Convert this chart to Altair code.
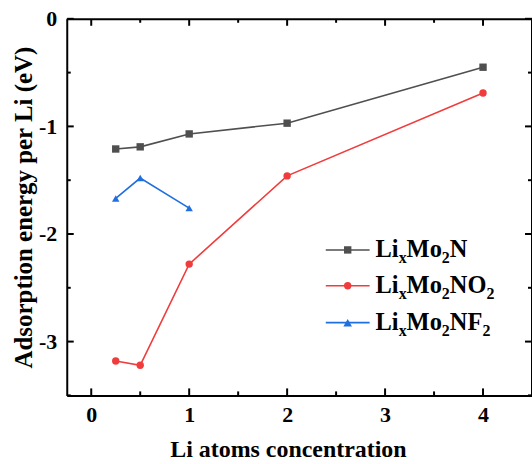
import altair as alt
import pandas as pd

# ---------------- data ----------------
conc_mo2n = [0.25, 0.5, 1, 2, 4]
energy_mo2n = [-1.21, -1.19, -1.07, -0.97, -0.45]
conc_mo2no2 = [0.25, 0.5, 1, 2, 4]
energy_mo2no2 = [-3.18, -3.22, -2.28, -1.46, -0.69]
conc_mo2nf2 = [0.25, 0.5, 1]
energy_mo2nf2 = [-1.67, -1.48, -1.76]

series_names = ["LixMo2N", "LixMo2NO2", "LixMo2NF2"]
# legend labels as (text, is_subscript) segments
legend_parts = [
    [("Li", False), ("x", True), ("Mo", False), ("2", True), ("N", False)],
    [("Li", False), ("x", True), ("Mo", False), ("2", True), ("NO", False), ("2", True)],
    [("Li", False), ("x", True), ("Mo", False), ("2", True), ("NF", False), ("2", True)],
]
x_major = [0, 1, 2, 3, 4]
y_major = [-3, -2, -1, 0]
x_minor = [0.5, 1.5, 2.5, 3.5, 4.5]
y_minor = [-3.5, -2.5, -1.5, -0.5]

colors = ["#4F4F4F", "#F03C3C", "#1F6FE0"]
shapes = ["square", "circle", "triangle-up"]
marker_sizes = [55, 55, 75]

rows = []
for name, xs_, ys_ in [(series_names[0], conc_mo2n, energy_mo2n),
                       (series_names[1], conc_mo2no2, energy_mo2no2),
                       (series_names[2], conc_mo2nf2, energy_mo2nf2)]:
    for a, b in zip(xs_, ys_):
        rows.append({"series": name, "conc": a, "energy": b})
df = pd.DataFrame(rows)

# ---------------- layout ----------------
W, H = 467, 378
FONT = "Liberation Serif"
MAJOR_LEN, MINOR_LEN = 7, 4

xscale = alt.Scale(domain=[-0.25, 4.5], nice=False, zero=False)
yscale = alt.Scale(domain=[-3.5, 0], nice=False, zero=False)
cscale = alt.Scale(domain=series_names, range=colors)
sscale = alt.Scale(domain=series_names, range=shapes)
zscale = alt.Scale(domain=series_names, range=marker_sizes)

base = alt.Chart(df)

lines = base.mark_line(strokeWidth=1.6).encode(
    x=alt.X("conc:Q", scale=xscale, axis=alt.Axis(
        orient="bottom", values=x_major, ticks=False, domain=True, domainColor="black",
        domainWidth=2, grid=False,
        labelExpr="datum.value + ''", labelFont=FONT, labelFontSize=22, labelFontWeight="bold",
        labelColor="black", labelPadding=9,
        title="Li atoms concentration", titleFont=FONT, titleFontSize=24, titleFontWeight="bold",
        titleColor="black", titleX=222, titleY=61, titleAlign="center", titleBaseline="alphabetic")),
    y=alt.Y("energy:Q", scale=yscale, axis=alt.Axis(
        orient="left", values=y_major, ticks=False, domain=True, domainColor="black",
        domainWidth=2, grid=False,
        labelExpr="datum.value + ''", labelFont=FONT, labelFontSize=22, labelFontWeight="bold",
        labelColor="black", labelPadding=10,
        title="Adsorption energy per Li (eV)", titleFont=FONT, titleFontSize=25, titleFontWeight="bold",
        titleColor="black", titleX=-35, titleY=189, titleAngle=270, titleAlign="center",
        titleBaseline="alphabetic")),
    color=alt.Color("series:N", scale=cscale, legend=None),
)

points = base.mark_point(filled=True, opacity=1).encode(
    x=alt.X("conc:Q", scale=xscale, axis=None),
    y=alt.Y("energy:Q", scale=yscale, axis=None),
    color=alt.Color("series:N", scale=cscale, legend=None),
    shape=alt.Shape("series:N", scale=sscale, legend=None),
    size=alt.Size("series:N", scale=zscale, legend=None),
)

# ---------------- frame (top / right) and inward ticks ----------------
dummy = pd.DataFrame({"k": [0]})
frame_top = alt.Chart(dummy).mark_rule(color="black", strokeWidth=2).encode(
    x=alt.value(0), x2=alt.value(W), y=alt.value(0.5))
frame_right = alt.Chart(dummy).mark_rule(color="black", strokeWidth=2).encode(
    x=alt.value(W), y=alt.value(0), y2=alt.value(H))

tick_layers = []
for vals, ln in [(x_major, MAJOR_LEN), (x_minor, MINOR_LEN)]:
    tdf = pd.DataFrame({"v": vals})
    for y0, y1 in [(0.5, ln), (H, H - ln)]:
        tick_layers.append(alt.Chart(tdf).mark_rule(color="black", strokeWidth=2).encode(
            x=alt.X("v:Q", scale=xscale, axis=None), y=alt.value(y0), y2=alt.value(y1)))
for vals, ln in [(y_major, MAJOR_LEN), (y_minor, MINOR_LEN)]:
    tdf = pd.DataFrame({"v": vals})
    for x0, x1 in [(0.5, ln), (W, W - ln)]:
        tick_layers.append(alt.Chart(tdf).mark_rule(color="black", strokeWidth=2).encode(
            y=alt.Y("v:Q", scale=yscale, axis=None), x=alt.value(x0), x2=alt.value(x1)))

# ---------------- legend (drawn manually to allow subscripts) ----------------
em_width = {"L": 0.667, "i": 0.278, "M": 0.944, "o": 0.5, "N": 0.722, "O": 0.778,
            "F": 0.611, "x": 0.5, "2": 0.5}
FS_MAIN, FS_SUB, SUB_SHIFT = 24.5, 16, 6
leg_row_y = [232, 268, 305]
leg_line_x0, leg_line_x1, leg_mark_x, leg_text_x = 260, 304, 282, 310

legend_layers = []
for i, parts in enumerate(legend_parts):
    ry = leg_row_y[i]
    legend_layers.append(alt.Chart(dummy).mark_rule(color=colors[i], strokeWidth=1.6).encode(
        x=alt.value(leg_line_x0), x2=alt.value(leg_line_x1), y=alt.value(ry)))
    legend_layers.append(alt.Chart(dummy).mark_point(
        filled=True, shape=shapes[i], color=colors[i], size=marker_sizes[i], opacity=1).encode(
        x=alt.value(leg_mark_x), y=alt.value(ry)))
    cx = leg_text_x
    for txt, sub in parts:
        fs = FS_SUB if sub else FS_MAIN
        yb = ry + 7 + (SUB_SHIFT if sub else 0)
        legend_layers.append(alt.Chart(dummy).mark_text(
            text=txt, font=FONT, fontSize=fs, fontWeight="bold", color="black",
            align="left", baseline="alphabetic").encode(x=alt.value(cx), y=alt.value(yb)))
        cx += sum(em_width[c] for c in txt) * fs

chart = alt.layer(lines, points, frame_top, frame_right, *tick_layers, *legend_layers).resolve_axis(
    x="independent", y="independent"
).properties(
    width=W, height=H,
    autosize=alt.AutoSizeParams(type="none"),
    padding={"left": 67, "top": 18, "right": 0, "bottom": 68},
    background="white",
).configure_view(strokeWidth=0).configure_axis(grid=False)

chart.save("out.html", embed_options={"renderer": "svg", "actions": False})
